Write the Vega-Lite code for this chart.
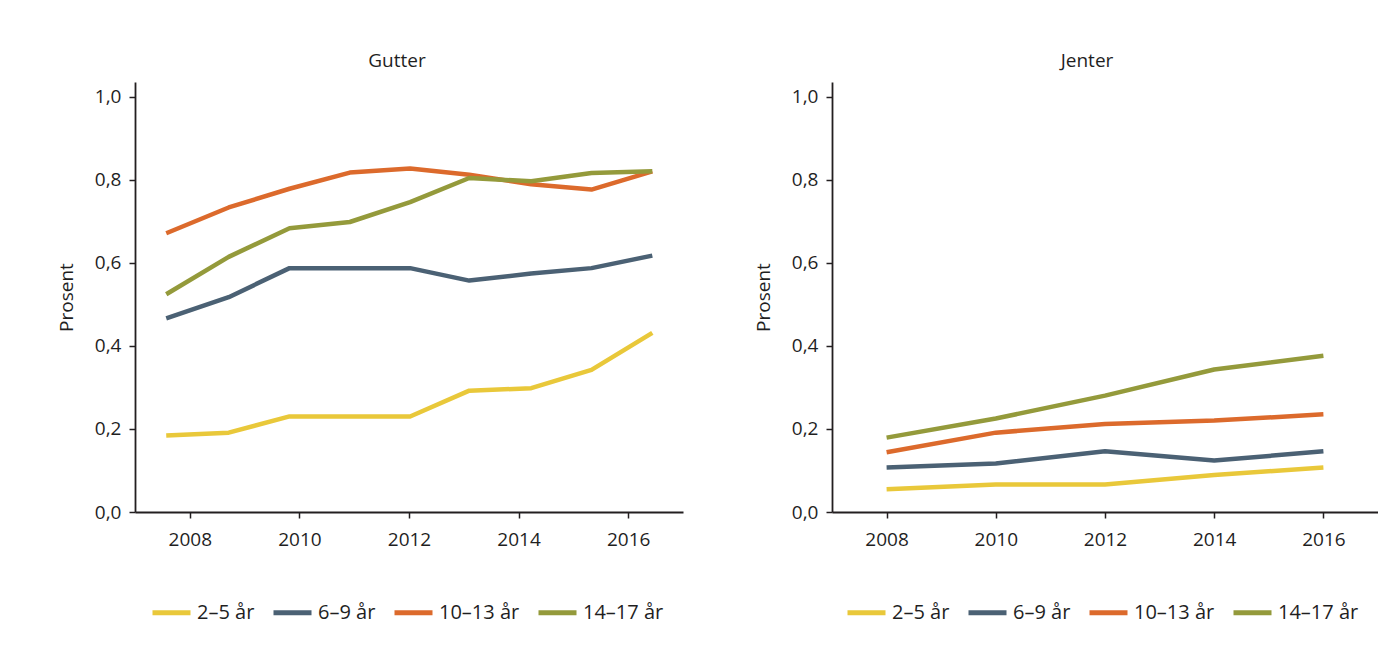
{
  "$schema": "https://vega.github.io/schema/vega-lite/v6.json",
  "background": "white",
  "padding": {"left": 57, "top": 52, "right": 0, "bottom": 0},
  "datasets": {
    "gutter": [
      {"age": "2–5 år", "year": 2007.57, "value": 0.184},
      {"age": "2–5 år", "year": 2008.71, "value": 0.191},
      {"age": "2–5 år", "year": 2009.82, "value": 0.230},
      {"age": "2–5 år", "year": 2010.92, "value": 0.230},
      {"age": "2–5 år", "year": 2012.02, "value": 0.230},
      {"age": "2–5 år", "year": 2013.10, "value": 0.292},
      {"age": "2–5 år", "year": 2014.23, "value": 0.298},
      {"age": "2–5 år", "year": 2015.33, "value": 0.342},
      {"age": "2–5 år", "year": 2016.44, "value": 0.431},
      {"age": "6–9 år", "year": 2007.57, "value": 0.466},
      {"age": "6–9 år", "year": 2008.71, "value": 0.517},
      {"age": "6–9 år", "year": 2009.82, "value": 0.587},
      {"age": "6–9 år", "year": 2010.92, "value": 0.587},
      {"age": "6–9 år", "year": 2012.02, "value": 0.587},
      {"age": "6–9 år", "year": 2013.10, "value": 0.557},
      {"age": "6–9 år", "year": 2014.23, "value": 0.574},
      {"age": "6–9 år", "year": 2015.33, "value": 0.587},
      {"age": "6–9 år", "year": 2016.44, "value": 0.617},
      {"age": "10–13 år", "year": 2007.57, "value": 0.671},
      {"age": "10–13 år", "year": 2008.71, "value": 0.733},
      {"age": "10–13 år", "year": 2009.82, "value": 0.778},
      {"age": "10–13 år", "year": 2010.92, "value": 0.817},
      {"age": "10–13 år", "year": 2012.02, "value": 0.827},
      {"age": "10–13 år", "year": 2013.10, "value": 0.812},
      {"age": "10–13 år", "year": 2014.23, "value": 0.789},
      {"age": "10–13 år", "year": 2015.33, "value": 0.776},
      {"age": "10–13 år", "year": 2016.44, "value": 0.820},
      {"age": "14–17 år", "year": 2007.57, "value": 0.524},
      {"age": "14–17 år", "year": 2008.71, "value": 0.614},
      {"age": "14–17 år", "year": 2009.82, "value": 0.683},
      {"age": "14–17 år", "year": 2010.92, "value": 0.698},
      {"age": "14–17 år", "year": 2012.02, "value": 0.746},
      {"age": "14–17 år", "year": 2013.10, "value": 0.804},
      {"age": "14–17 år", "year": 2014.23, "value": 0.796},
      {"age": "14–17 år", "year": 2015.33, "value": 0.816},
      {"age": "14–17 år", "year": 2016.44, "value": 0.820}
    ],
    "jenter": [
      {"age": "2–5 år", "year": 2008, "value": 0.055},
      {"age": "2–5 år", "year": 2010, "value": 0.066},
      {"age": "2–5 år", "year": 2012, "value": 0.066},
      {"age": "2–5 år", "year": 2014, "value": 0.089},
      {"age": "2–5 år", "year": 2016, "value": 0.107},
      {"age": "6–9 år", "year": 2008, "value": 0.107},
      {"age": "6–9 år", "year": 2010, "value": 0.117},
      {"age": "6–9 år", "year": 2012, "value": 0.146},
      {"age": "6–9 år", "year": 2014, "value": 0.124},
      {"age": "6–9 år", "year": 2016, "value": 0.146},
      {"age": "10–13 år", "year": 2008, "value": 0.144},
      {"age": "10–13 år", "year": 2010, "value": 0.191},
      {"age": "10–13 år", "year": 2012, "value": 0.212},
      {"age": "10–13 år", "year": 2014, "value": 0.220},
      {"age": "10–13 år", "year": 2016, "value": 0.235},
      {"age": "14–17 år", "year": 2008, "value": 0.179},
      {"age": "14–17 år", "year": 2010, "value": 0.225},
      {"age": "14–17 år", "year": 2012, "value": 0.280},
      {"age": "14–17 år", "year": 2014, "value": 0.343},
      {"age": "14–17 år", "year": 2016, "value": 0.376}
    ]
  },
  "spacing": 71,
  "hconcat": [
    {
      "title": {"text": "Gutter", "frame": "group", "dx": -12},
      "width": 548,
      "height": 430,
      "data": {"name": "gutter"},
      "mark": {"type": "line", "strokeWidth": 4.5, "strokeJoin": "round"},
      "encoding": {
        "x": {"field": "year", "type": "quantitative", "scale": {"domain": [2007, 2017], "nice": false, "zero": false}, "axis": {"values": [2008, 2010, 2012, 2014, 2016], "format": "d", "title": null, "grid": false}},
        "y": {"field": "value", "type": "quantitative", "scale": {"domain": [0, 1.035], "nice": false}, "axis": {"values": [0, 0.2, 0.4, 0.6, 0.8, 1.0], "labelExpr": "replace(format(datum.value, '.1f'), '.', ',')", "title": "Prosent", "grid": false}},
        "color": {"field": "age", "type": "nominal", "sort": ["2–5 år", "6–9 år", "10–13 år", "14–17 år"], "scale": {"domain": ["2–5 år", "6–9 år", "10–13 år", "14–17 år"], "range": ["#E9C83A", "#4B6174", "#DC6A2C", "#949A3B"]}, "legend": {"orient": "none", "legendX": 15, "legendY": 509, "direction": "horizontal", "title": null}}
      }
    },
    {
      "title": {"text": "Jenter", "frame": "group", "dx": -18},
      "width": 546,
      "height": 430,
      "data": {"name": "jenter"},
      "mark": {"type": "line", "strokeWidth": 4.5, "strokeJoin": "round"},
      "encoding": {
        "x": {"field": "year", "type": "quantitative", "scale": {"domain": [2007, 2017], "nice": false, "zero": false}, "axis": {"values": [2008, 2010, 2012, 2014, 2016], "format": "d", "title": null, "grid": false}},
        "y": {"field": "value", "type": "quantitative", "scale": {"domain": [0, 1.035], "nice": false}, "axis": {"values": [0, 0.2, 0.4, 0.6, 0.8, 1.0], "labelExpr": "replace(format(datum.value, '.1f'), '.', ',')", "title": "Prosent", "grid": false}},
        "color": {"field": "age", "type": "nominal", "sort": ["2–5 år", "6–9 år", "10–13 år", "14–17 år"], "scale": {"domain": ["2–5 år", "6–9 år", "10–13 år", "14–17 år"], "range": ["#E9C83A", "#4B6174", "#DC6A2C", "#949A3B"]}, "legend": {"orient": "none", "legendX": 13, "legendY": 509, "direction": "horizontal", "title": null}}
      }
    }
  ],
  "resolve": {"scale": {"color": "independent", "x": "independent", "y": "independent"}, "legend": {"color": "independent"}},
  "config": {
    "view": {"stroke": null},
    "font": "Open Sans",
    "title": {"font": "Open Sans", "fontSize": 19, "fontWeight": "normal", "color": "#1f1f1f", "anchor": "middle", "baseline": "alphabetic", "offset": 11},
    "axis": {"domainColor": "#231F20", "domainWidth": 1.8, "tickColor": "#231F20", "tickWidth": 1.5, "tickSize": 6, "labelFont": "Open Sans", "labelFontSize": 19, "labelColor": "#1f1f1f", "titleFont": "Open Sans", "titleFontSize": 19, "titleFontWeight": "normal", "titleColor": "#1f1f1f"},
    "axisX": {"labelPadding": 12},
    "axisY": {"labelPadding": 8, "titlePadding": 18},
    "legend": {"symbolType": "stroke", "symbolSize": 1444, "symbolStrokeWidth": 5, "labelFont": "Open Sans", "labelFontSize": 20, "labelColor": "#1f1f1f", "labelOffset": 4, "columnPadding": 8, "labelLimit": 0}
  }
}
